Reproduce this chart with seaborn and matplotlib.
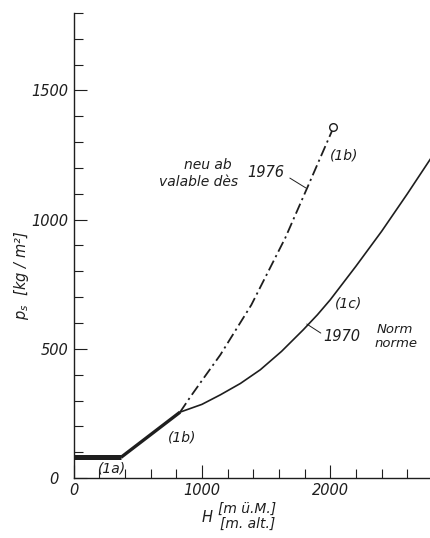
import matplotlib
matplotlib.use("Agg")
import matplotlib.pyplot as plt
import seaborn as sns
import numpy as np
import pandas as pd

# ---- data ----
h_1970 = [0, 370, 830, 1000, 1144, 1300, 1455, 1620, 1790, 1900, 2000, 2200, 2400, 2600, 2800]
ps_1970 = [80, 80, 255, 285, 322, 366, 419, 490, 574, 632, 690, 820, 955, 1100, 1250]
h_1976 = [0, 370, 830, 910, 1000, 1144, 1385, 1650, 1821, 2025]
ps_1976 = [80, 80, 255, 314, 377, 477, 670, 930, 1124, 1357]
n_common = 3  # first points shared by both rules (1a) and (1b)
x_ticks = [0, 1000, 2000]
y_ticks = [0, 500, 1000, 1500]

sns.set_style("ticks")
plt.rcParams['font.family'] = ['DejaVu Sans']
plt.rcParams['font.style'] = 'italic'
plt.rcParams['mathtext.fontset'] = 'dejavusans'

ink = '#1e1e1e'
fig = plt.figure(figsize=(4.31, 5.38), dpi=100)
ax = fig.add_axes([73.5/431, 60/538, (433-73.5)/431, 465/538])

df70 = pd.DataFrame({'H': h_1970, 'ps': ps_1970})
df76 = pd.DataFrame({'H': h_1976, 'ps': ps_1976})
dfc = df70.iloc[:n_common]

# shared thick part
sns.lineplot(data=dfc.iloc[:2], x='H', y='ps', ax=ax, color=ink, lw=3.6,
             estimator=None, sort=False, solid_capstyle='butt')
sns.lineplot(data=dfc.iloc[1:], x='H', y='ps', ax=ax, color=ink, lw=2.4,
             estimator=None, sort=False, solid_capstyle='butt')
# 1970 norm (solid)
sns.lineplot(data=df70.iloc[n_common-1:], x='H', y='ps', ax=ax, color=ink,
             lw=1.2, estimator=None, sort=False)
# 1976 (dash-dot)
sns.lineplot(data=df76.iloc[n_common-1:], x='H', y='ps', ax=ax, color=ink,
             lw=1.3, estimator=None, sort=False, linestyle=(0, (6, 2.2, 1.2, 2.2)))
ax.plot(h_1976[-1], ps_1976[-1], marker='o', ms=5.5, mfc='white', mec=ink,
        mew=1.0, zorder=5)

ax.set_xlim(0, 2800)
ax.set_ylim(0, 1800)
ax.set_xlabel('')
ax.set_ylabel('')
sns.despine(ax=ax)
for s in ['left', 'bottom']:
    ax.spines[s].set_linewidth(1.0)
    ax.spines[s].set_color(ink)

ax.set_xticks(x_ticks)
ax.set_xticks(np.arange(0, 2801, 200), minor=True)
ax.set_yticks(y_ticks)
ax.set_yticks(np.arange(0, 1801, 100), minor=True)
ax.set_xticklabels([str(v) for v in x_ticks], fontstyle='italic')
ax.set_yticklabels([str(v) for v in y_ticks], fontstyle='italic')
ax.tick_params(which='major', direction='in', length=9.5, width=0.8,
               color=ink, labelsize=10.5, labelcolor=ink, pad=3.5)
ax.tick_params(which='minor', direction='in', length=6.2, width=0.8, color=ink)
ax.yaxis.get_major_ticks()[0].set_pad(11)

tk = dict(fontsize=10, color=ink, fontstyle='italic')
ax.text(1233, 1212, 'neu ab', ha='right', va='center', **tk)
ax.text(1280, 1146, 'valable dès', ha='right', va='center', **tk)
ax.text(1350, 1181, '1976', ha='left', va='center', fontsize=10.5, color=ink)
ax.plot([1685, 1809], [1161, 1123], color=ink, lw=0.7)
ax.text(1996, 1250, '(1b)', ha='left', va='center', **tk)
ax.text(2035, 677, '(1c)', ha='left', va='center', **tk)
ax.text(1942, 546, '1970', ha='left', va='center', fontsize=10.5, color=ink)
ax.plot([1926, 1817], [561, 596], color=ink, lw=0.7)
ax.text(2362, 573, 'Norm', ha='left', va='center', fontsize=9.5, color=ink)
ax.text(2346, 519, 'norme', ha='left', va='center', fontsize=9.5, color=ink)
ax.text(735, 155, '(1b)', ha='left', va='center', **tk)
ax.text(191, 35, '(1a)', ha='left', va='center', **tk)

fig.text(22/431, 1-275/538, r'$p_s$  [kg / m²]', rotation=90, ha='center',
         va='center', fontsize=10.5, color=ink)
fig.text(207/431, 1-517/538, 'H', ha='center', va='center', fontsize=10.5, color=ink)
fig.text(218/431, 1-509/538, '[m ü.M.]', ha='left', va='center', fontsize=10, color=ink)
fig.text(220/431, 1-524/538, '[m. alt.]', ha='left', va='center', fontsize=10, color=ink)

fig.savefig('out.png', dpi=100, facecolor='white')
